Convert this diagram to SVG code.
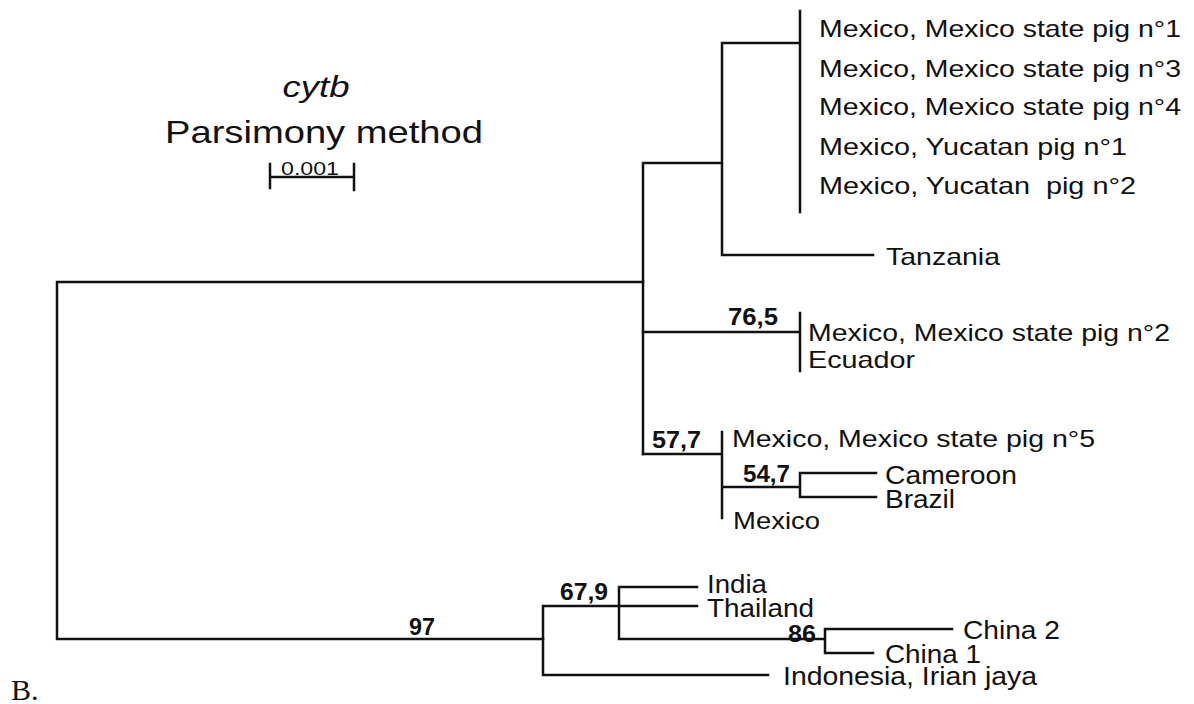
<svg xmlns="http://www.w3.org/2000/svg" width="1194" height="704" viewBox="0 0 1194 704">
<style>
.ln{stroke:#111;stroke-width:2.5;fill:none;stroke-linecap:square}
.lb{font-family:"Liberation Sans",Arial,sans-serif;font-size:24px;fill:#111}
.lb2{font-family:"Liberation Sans",Arial,sans-serif;font-size:26px;fill:#111}
.bs{font-family:"Liberation Sans",Arial,sans-serif;font-size:23px;font-weight:bold;fill:#111}
</style>
<rect width="1194" height="704" fill="#fff"/>
<g id="title">
<text x="316" y="97" text-anchor="middle" font-family="Liberation Sans, Arial, sans-serif" font-style="italic" font-size="30" textLength="67" lengthAdjust="spacingAndGlyphs" fill="#111">cytb</text>
<text x="165" y="143" font-family="Liberation Sans, Arial, sans-serif" font-size="32" textLength="318" lengthAdjust="spacingAndGlyphs" fill="#111">Parsimony method</text>
</g>
<g id="scalebar">
<path class="ln" d="M270,177 H354 M270,164 V188 M354,164 V190"/>
<text x="281" y="175" font-family="Liberation Sans, Arial, sans-serif" font-size="19" textLength="58" lengthAdjust="spacingAndGlyphs" fill="#111">0.001</text>
</g>
<g id="connectors">
<path class="ln" d="M643,282 H57 V639 H543"/>
<path class="ln" d="M643,163 V454 M643,163 H722 M722,43 V255 M722,43 H800 M800,11 V212 M722,255 H873"/>
<path class="ln" d="M643,332 H800 M800,313 V371"/>
<path class="ln" d="M643,454 H722 M722,432 V518 M722,487 H800 M800,473 V497 M800,473 H876 M800,497 H876"/>
<path class="ln" d="M543,606 V675 M543,606 H697 M619,587 V639 M619,587 H697 M619,639 H825 M825,629 V653 M825,629 H952 M825,653 H873 M543,675 H768"/>
</g>
<g id="support">
<text class="bs" x="728" y="325" textLength="50" lengthAdjust="spacingAndGlyphs">76,5</text>
<text class="bs" x="652" y="448" textLength="49" lengthAdjust="spacingAndGlyphs">57,7</text>
<text class="bs" x="743" y="482" textLength="47" lengthAdjust="spacingAndGlyphs">54,7</text>
<text class="bs" x="409" y="635" textLength="26" lengthAdjust="spacingAndGlyphs">97</text>
<text class="bs" x="560" y="600" textLength="48" lengthAdjust="spacingAndGlyphs">67,9</text>
<text class="bs" x="788" y="642" textLength="28" lengthAdjust="spacingAndGlyphs">86</text>
</g>
<g id="leaf-mex1"><text class="lb" x="819" y="37" textLength="362" lengthAdjust="spacingAndGlyphs">Mexico, Mexico state pig n°1</text></g>
<g id="leaf-mex3"><text class="lb" x="819" y="77" textLength="362" lengthAdjust="spacingAndGlyphs">Mexico, Mexico state pig n°3</text></g>
<g id="leaf-mex4"><text class="lb" x="819" y="115" textLength="362" lengthAdjust="spacingAndGlyphs">Mexico, Mexico state pig n°4</text></g>
<g id="leaf-yuc1"><text class="lb" x="819" y="155" textLength="308" lengthAdjust="spacingAndGlyphs">Mexico, Yucatan pig n°1</text></g>
<g id="leaf-yuc2"><text class="lb" x="819" y="194" textLength="317" lengthAdjust="spacingAndGlyphs" xml:space="preserve">Mexico, Yucatan  pig n°2</text></g>
<g id="leaf-tanzania"><text class="lb" x="886" y="265" textLength="114" lengthAdjust="spacingAndGlyphs">Tanzania</text></g>
<g id="leaf-mex2"><text class="lb" x="808" y="341" textLength="362" lengthAdjust="spacingAndGlyphs">Mexico, Mexico state pig n°2</text></g>
<g id="leaf-ecuador"><text class="lb" x="808" y="368" textLength="107" lengthAdjust="spacingAndGlyphs">Ecuador</text></g>
<g id="leaf-mex5"><text class="lb" x="732" y="447" textLength="363" lengthAdjust="spacingAndGlyphs">Mexico, Mexico state pig n°5</text></g>
<g id="leaf-cameroon"><text class="lb2" x="885" y="484" textLength="132" lengthAdjust="spacingAndGlyphs">Cameroon</text></g>
<g id="leaf-brazil"><text class="lb2" x="885" y="508" textLength="70" lengthAdjust="spacingAndGlyphs">Brazil</text></g>
<g id="leaf-mexico"><text class="lb" x="733" y="529" textLength="87" lengthAdjust="spacingAndGlyphs">Mexico</text></g>
<g id="leaf-india"><text class="lb2" x="707" y="593" textLength="60" lengthAdjust="spacingAndGlyphs">India</text></g>
<g id="leaf-thailand"><text class="lb2" x="707" y="617" textLength="107" lengthAdjust="spacingAndGlyphs">Thailand</text></g>
<g id="leaf-china2"><text class="lb2" x="963" y="639" textLength="97" lengthAdjust="spacingAndGlyphs">China 2</text></g>
<g id="leaf-china1"><text class="lb2" x="885" y="663" textLength="96" lengthAdjust="spacingAndGlyphs">China 1</text></g>
<g id="leaf-indonesia"><text class="lb2" x="783" y="685" textLength="254" lengthAdjust="spacingAndGlyphs">Indonesia, Irian jaya</text></g>
<g id="panel-label"><text x="11" y="700" font-family="Liberation Serif, Times New Roman, serif" font-size="30" fill="#111">B.</text></g>
</svg>
